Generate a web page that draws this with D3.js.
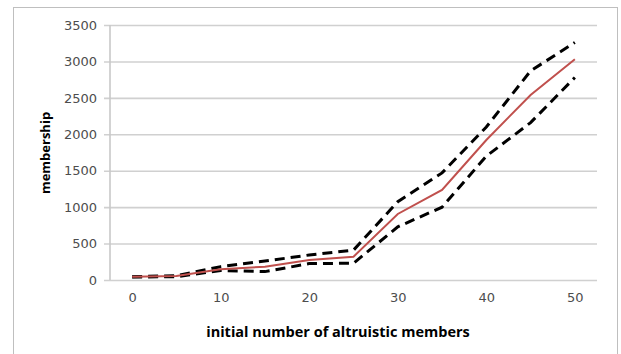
<!DOCTYPE html>
<html>
<head>
<meta charset="utf-8">
<script src="https://cdn.jsdelivr.net/npm/d3@7"></script>
<style>
  body { margin: 0; background: #fff; }
  svg { display: block; }
</style>
</head>
<body>
<div id="chart"></div>
<script>
// values
const members = [0, 5, 10, 15, 20, 25, 30, 35, 40, 45, 50];
const meanMembership = [45, 55, 147, 183, 275, 320, 906, 1236, 1922, 2540, 3030];
const upperMembership = [45, 60, 183, 260, 343, 410, 1075, 1470, 2100, 2870, 3260];
const lowerMembership = [40, 45, 130, 115, 225, 230, 730, 1000, 1700, 2160, 2780];
const yTicks = [0, 500, 1000, 1500, 2000, 2500, 3000, 3500];
const xTicks = [0, 10, 20, 30, 40, 50];

const width = 621, height = 354;
const margin = { top: 25, right: 22, bottom: 74, left: 110 };

const svg = d3.select("#chart").append("svg")
  .attr("width", width)
  .attr("height", height);

// chart frame
svg.append("rect")
  .attr("x", 13.5).attr("y", 7.5)
  .attr("width", 604).attr("height", 370)
  .attr("fill", "none")
  .attr("stroke", "#bfbfbf");

// category-style x axis: points sit in the middle of each slot
const x = d3.scaleLinear()
  .domain([-2.5, 52.5])
  .range([margin.left, width - margin.right - 2]);
const y = d3.scaleLinear()
  .domain([0, 3500])
  .range([height - margin.bottom, margin.top]);

// gridlines + y ticks
svg.append("g")
  .attr("transform", "translate(" + margin.left + ",0)")
  .call(d3.axisLeft(y).tickValues(yTicks).tickFormat(d3.format("d"))
    .tickSize(-(x.range()[1] - margin.left)).tickSizeOuter(0).tickPadding(13))
  .call(g => g.select(".domain").remove())
  .call(g => g.selectAll(".tick line")
    .attr("stroke", "#d0d0d0").attr("stroke-width", 1.6)
    .attr("x1", -6))
  .call(g => g.selectAll(".tick text")
    .attr("fill", "#4d4d4d")
    .style("font-family", "DejaVu Sans")
    .style("font-size", "13px"));

// y axis line
svg.append("line")
  .attr("x1", margin.left).attr("x2", margin.left)
  .attr("y1", y(3500)).attr("y2", y(0))
  .attr("stroke", "#c8c8c8").attr("stroke-width", 1.6);

// x labels
svg.append("g")
  .attr("transform", "translate(0," + y(0) + ")")
  .call(d3.axisBottom(x).tickValues(xTicks).tickSize(0).tickPadding(13))
  .call(g => g.select(".domain").remove())
  .call(g => g.selectAll(".tick text")
    .attr("fill", "#4d4d4d")
    .style("font-family", "DejaVu Sans")
    .style("font-size", "13px"));

const line = d3.line()
  .x((d, i) => x(members[i]))
  .y(d => y(d));

[upperMembership, lowerMembership].forEach(series => {
  svg.append("path")
    .datum(series)
    .attr("d", line)
    .attr("fill", "none")
    .attr("stroke", "#000")
    .attr("stroke-width", 3)
    .attr("stroke-dasharray", "10,6");
});

svg.append("path")
  .datum(meanMembership)
  .attr("d", line)
  .attr("fill", "none")
  .attr("stroke", "#c0504d")
  .attr("stroke-width", 2);

// axis titles
svg.append("text")
  .attr("x", 338).attr("y", 337)
  .attr("text-anchor", "middle")
  .attr("fill", "#000")
  .style("font-family", "Open Sans")
  .style("font-weight", "bold")
  .style("font-size", "14.5px")
  .text("initial number of altruistic members");

svg.append("text")
  .attr("transform", "translate(50,153) rotate(-90)")
  .attr("text-anchor", "middle")
  .attr("fill", "#000")
  .style("font-family", "Open Sans")
  .style("font-weight", "bold")
  .style("font-size", "13px")
  .text("membership");
</script>
</body>
</html>
